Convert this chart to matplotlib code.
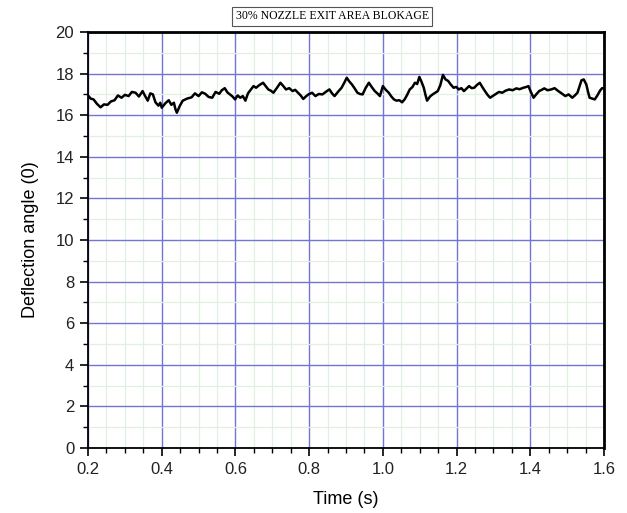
"""Deflection angle vs time — 30% nozzle exit area blockage"""

import matplotlib
matplotlib.use("Agg")
import matplotlib.pyplot as plt
from matplotlib.ticker import MultipleLocator

# values
time_s = [0.200, 0.207, 0.215, 0.224, 0.234, 0.243, 0.253, 0.262, 0.272, 0.281,
          0.291, 0.300, 0.310, 0.319, 0.329, 0.338, 0.348, 0.355, 0.362, 0.369,
          0.376, 0.383, 0.391, 0.396, 0.400, 0.410, 0.419, 0.426, 0.433, 0.437,
          0.441, 0.449, 0.457, 0.469, 0.481, 0.490, 0.500, 0.509, 0.518, 0.527,
          0.537, 0.546, 0.556, 0.563, 0.571, 0.578, 0.585, 0.592, 0.599, 0.606,
          0.613, 0.620, 0.627, 0.634, 0.642, 0.649, 0.656, 0.665, 0.675, 0.682,
          0.689, 0.696, 0.703, 0.712, 0.722, 0.729, 0.737, 0.746, 0.755, 0.762,
          0.770, 0.777, 0.784, 0.791, 0.798, 0.808, 0.817, 0.826, 0.836, 0.845,
          0.855, 0.862, 0.869, 0.878, 0.888, 0.895, 0.902, 0.909, 0.916, 0.923,
          0.931, 0.938, 0.945, 0.953, 0.962, 0.970, 0.978, 0.985, 0.992, 1.000,
          1.008, 1.016, 1.023, 1.030, 1.037, 1.045, 1.052, 1.059, 1.066, 1.073,
          1.080, 1.087, 1.093, 1.099, 1.105, 1.111, 1.116, 1.120, 1.128, 1.135,
          1.142, 1.149, 1.156, 1.163, 1.170, 1.177, 1.184, 1.192, 1.199, 1.206,
          1.213, 1.220, 1.227, 1.234, 1.241, 1.248, 1.255, 1.263, 1.270, 1.277,
          1.284, 1.291, 1.298, 1.305, 1.315, 1.324, 1.333, 1.343, 1.352, 1.362,
          1.371, 1.381, 1.388, 1.395, 1.402, 1.409, 1.416, 1.424, 1.431, 1.438,
          1.447, 1.457, 1.466, 1.476, 1.485, 1.495, 1.504, 1.514, 1.521, 1.528,
          1.534, 1.539, 1.545, 1.552, 1.557, 1.561, 1.568, 1.575, 1.582, 1.590,
          1.595, 1.599]
angle_deg = [16.95, 16.80, 16.76, 16.55, 16.38, 16.52, 16.50, 16.66, 16.72, 16.95,
             16.84, 16.98, 16.92, 17.12, 17.08, 16.90, 17.16, 16.92, 16.70, 17.05,
             17.00, 16.62, 16.46, 16.60, 16.36, 16.58, 16.72, 16.50, 16.60, 16.30,
             16.12, 16.45, 16.70, 16.80, 16.86, 17.05, 16.92, 17.10, 17.03, 16.88,
             16.84, 17.12, 17.03, 17.20, 17.30, 17.10, 17.00, 16.90, 16.76, 16.95,
             16.84, 16.92, 16.70, 17.05, 17.24, 17.40, 17.32, 17.45, 17.56, 17.40,
             17.24, 17.18, 17.08, 17.30, 17.56, 17.42, 17.24, 17.30, 17.16, 17.22,
             17.08, 16.95, 16.78, 16.90, 17.00, 17.08, 16.92, 17.02, 17.00, 17.12,
             17.24, 17.05, 16.92, 17.12, 17.32, 17.55, 17.80, 17.62, 17.48, 17.30,
             17.08, 17.02, 17.00, 17.30, 17.56, 17.35, 17.16, 17.05, 16.92, 17.40,
             17.22, 17.08, 16.90, 16.76, 16.70, 16.72, 16.62, 16.76, 16.98, 17.24,
             17.35, 17.56, 17.50, 17.84, 17.60, 17.32, 16.95, 16.70, 16.90, 17.00,
             17.08, 17.16, 17.45, 17.94, 17.72, 17.65, 17.48, 17.32, 17.36, 17.24,
             17.30, 17.16, 17.28, 17.40, 17.30, 17.32, 17.45, 17.56, 17.35, 17.16,
             16.98, 16.84, 16.92, 17.00, 17.12, 17.08, 17.18, 17.24, 17.20, 17.29,
             17.25, 17.32, 17.35, 17.40, 17.10, 16.84, 17.00, 17.16, 17.22, 17.29,
             17.20, 17.24, 17.30, 17.16, 17.05, 16.92, 17.00, 16.84, 16.95, 17.08,
             17.40, 17.68, 17.72, 17.48, 17.10, 16.84, 16.80, 16.76, 16.95, 17.20,
             17.30, 17.29]

fig = plt.figure(figsize=(6.27, 5.13), dpi=100)
ax = fig.add_axes([0.1404, 0.1267, 0.8229, 0.8109])

ax.plot(time_s, angle_deg, "-", color="black", lw=1.8, zorder=3)

ax.set_xlim(0.2, 1.6)
ax.set_ylim(0, 20)
ax.xaxis.set_major_locator(MultipleLocator(0.2))
ax.xaxis.set_minor_locator(MultipleLocator(0.05))
ax.yaxis.set_major_locator(MultipleLocator(2))
ax.yaxis.set_minor_locator(MultipleLocator(1))
ax.set_xticklabels([f"{v:.1f}" for v in ax.get_xticks()])

# 网格：主网格蓝色，次网格很淡的绿色
ax.grid(which="minor", color="#e2f0e2", lw=0.9, zorder=0)
ax.grid(which="major", color="#7474d4", lw=1.0, zorder=1)
ax.set_axisbelow(True)

for side in ["left", "bottom"]:
    ax.spines[side].set_linewidth(1.3)
for side in ["top", "right"]:
    ax.spines[side].set_linewidth(2.0)
ax.tick_params(which="major", direction="out", length=6, width=1.2,
               labelsize=12, colors="black", top=False, right=False, pad=4)
ax.tick_params(which="minor", direction="out", length=3.5, width=1.0,
               top=False, right=False)
for lab in ax.get_xticklabels() + ax.get_yticklabels():
    lab.set_family("Liberation Sans")
    lab.set_color("#222222")

ax.set_xlabel("Time (s)", fontsize=13, family="Liberation Sans", labelpad=10)
ax.set_ylabel("Deflection angle (0)", fontsize=13, family="Liberation Sans", labelpad=12)

fig.text(0.530, 0.968, "30% NOZZLE EXIT AREA BLOKAGE", ha="center", va="center",
         fontsize=8.5, family="Liberation Serif",
         bbox=dict(boxstyle="square,pad=0.3", facecolor="white",
                   edgecolor="#555555", lw=0.8))

fig.savefig("out.png", dpi=100)
plt.close(fig)
